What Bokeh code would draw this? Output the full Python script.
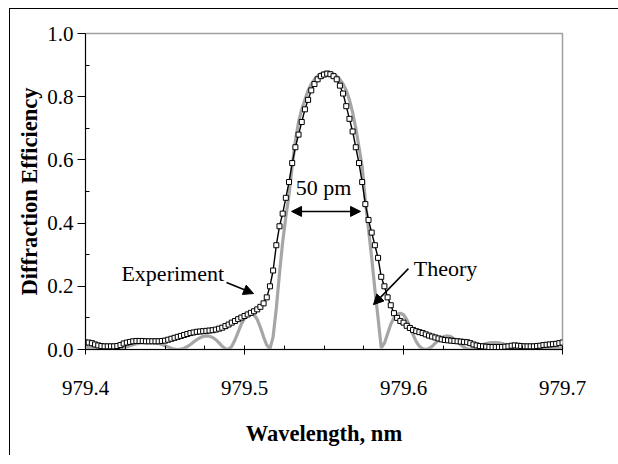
from bokeh.plotting import figure
from bokeh.models import FixedTicker, PrintfTickFormatter, Range1d, Label, Arrow, NormalHead, ColumnDataSource
from bokeh.embed import file_html
from bokeh.resources import INLINE

# ---------------- data ----------------
wavelength = [
    979.400, 979.402, 979.404, 979.406, 979.408, 979.410, 979.412, 979.414, 979.416, 979.418,
    979.420, 979.422, 979.424, 979.426, 979.428, 979.430, 979.432, 979.434, 979.436, 979.438,
    979.440, 979.442, 979.444, 979.446, 979.448, 979.450, 979.452, 979.454, 979.456, 979.458,
    979.460, 979.462, 979.464, 979.466, 979.468, 979.470, 979.472, 979.474, 979.476, 979.478,
    979.480, 979.482, 979.484, 979.486, 979.488, 979.490, 979.492, 979.494, 979.496, 979.498,
    979.500, 979.502, 979.504, 979.506, 979.508, 979.510, 979.512, 979.514, 979.516, 979.518,
    979.520, 979.522, 979.524, 979.526, 979.528, 979.530, 979.532, 979.534, 979.536, 979.538,
    979.540, 979.542, 979.544, 979.546, 979.548, 979.550, 979.552, 979.554, 979.556, 979.558,
    979.560, 979.562, 979.564, 979.566, 979.568, 979.570, 979.572, 979.574, 979.576, 979.578,
    979.580, 979.582, 979.584, 979.586, 979.588, 979.590, 979.592, 979.594, 979.596, 979.598,
    979.600, 979.602, 979.604, 979.606, 979.608, 979.610, 979.612, 979.614, 979.616, 979.618,
    979.620, 979.622, 979.624, 979.626, 979.628, 979.630, 979.632, 979.634, 979.636, 979.638,
    979.640, 979.642, 979.644, 979.646, 979.648, 979.650, 979.652, 979.654, 979.656, 979.658,
    979.660, 979.662, 979.664, 979.666, 979.668, 979.670, 979.672, 979.674, 979.676, 979.678,
    979.680, 979.682, 979.684, 979.686, 979.688, 979.690, 979.692, 979.694, 979.696, 979.698,
    979.700,
]

experiment = [
    0.022, 0.022, 0.020, 0.016, 0.013, 0.011, 0.010, 0.010, 0.010, 0.010,
    0.011, 0.014, 0.019, 0.022, 0.024, 0.026, 0.027, 0.027, 0.027, 0.026,
    0.026, 0.026, 0.026, 0.026, 0.027, 0.028, 0.031, 0.034, 0.037, 0.040,
    0.043, 0.046, 0.049, 0.052, 0.054, 0.056, 0.057, 0.058, 0.059, 0.060,
    0.061, 0.063, 0.066, 0.069, 0.074, 0.079, 0.085, 0.090, 0.096, 0.101,
    0.106, 0.111, 0.116, 0.121, 0.127, 0.135, 0.146, 0.165, 0.200, 0.250,
    0.330, 0.390, 0.430, 0.480, 0.530, 0.590, 0.640, 0.680, 0.720, 0.760,
    0.790, 0.820, 0.840, 0.855, 0.865, 0.870, 0.873, 0.871, 0.865, 0.855,
    0.835, 0.810, 0.770, 0.730, 0.690, 0.640, 0.590, 0.530, 0.460, 0.410,
    0.370, 0.330, 0.290, 0.230, 0.200, 0.165, 0.140, 0.115, 0.100, 0.090,
    0.085, 0.075, 0.068, 0.062, 0.058, 0.055, 0.052, 0.048, 0.044, 0.041,
    0.038, 0.035, 0.032, 0.030, 0.029, 0.028, 0.027, 0.026, 0.025, 0.024,
    0.023, 0.020, 0.016, 0.013, 0.011, 0.010, 0.009, 0.008, 0.008, 0.008,
    0.008, 0.008, 0.009, 0.010, 0.012, 0.013, 0.012, 0.011, 0.010, 0.010,
    0.010, 0.010, 0.011, 0.012, 0.014, 0.015, 0.016, 0.017, 0.018, 0.020,
    0.022,
]

theory = [
    0.005, 0.006, 0.006, 0.005, 0.004, 0.002, 0.001, 0.000, 0.000, 0.001,
    0.002, 0.004, 0.006, 0.009, 0.012, 0.015, 0.018, 0.020, 0.021, 0.022,
    0.022, 0.022, 0.021, 0.019, 0.016, 0.012, 0.008, 0.004, 0.001, 0.000,
    0.001, 0.004, 0.009, 0.016, 0.024, 0.031, 0.037, 0.041, 0.043, 0.042,
    0.038, 0.031, 0.021, 0.010, 0.002, 0.001, 0.010, 0.030, 0.055, 0.080,
    0.098, 0.110, 0.114, 0.110, 0.095, 0.070, 0.040, 0.014, 0.002, 0.040,
    0.130, 0.240, 0.340, 0.420, 0.490, 0.580, 0.660, 0.720, 0.760, 0.790,
    0.820, 0.840, 0.855, 0.866, 0.873, 0.877, 0.878, 0.876, 0.872, 0.865,
    0.855, 0.840, 0.820, 0.790, 0.750, 0.700, 0.640, 0.580, 0.470, 0.380,
    0.290, 0.190, 0.100, 0.005, 0.020, 0.050, 0.080, 0.100, 0.112, 0.115,
    0.110, 0.095, 0.072, 0.047, 0.025, 0.010, 0.002, 0.000, 0.003, 0.010,
    0.020, 0.030, 0.038, 0.042, 0.043, 0.040, 0.033, 0.024, 0.015, 0.007,
    0.002, 0.001, 0.003, 0.007, 0.012, 0.016, 0.019, 0.021, 0.022, 0.022,
    0.021, 0.019, 0.016, 0.012, 0.008, 0.005, 0.002, 0.001, 0.000, 0.001,
    0.002, 0.003, 0.004, 0.005, 0.005, 0.005, 0.004, 0.003, 0.003, 0.003,
    0.004,
]

x_ticks = [979.4, 979.5, 979.6, 979.7]
x_minor = [979.425, 979.45, 979.475, 979.525, 979.55, 979.575, 979.625, 979.65, 979.675]
y_ticks = [0.0, 0.2, 0.4, 0.6, 0.8, 1.0]
y_minor = [0.1, 0.3, 0.5, 0.7, 0.9]

# annotations (data coordinates)
exp_label = ("Experiment", 979.4226, 0.24)
exp_arrow = (979.4887, 0.212, 979.5057, 0.177)
th_label = ("Theory", 979.6065, 0.255)
th_arrow = (979.6031, 0.256, 979.5811, 0.142)
fwhm_label = ("50 pm", 979.5497, 0.513)
fwhm_arrow = (979.5296, 0.437, 979.5730, 0.437)

FONT = "Liberation Serif"

p = figure(width=612, height=447, output_backend="svg", toolbar_location=None,
           x_range=Range1d(979.4, 979.7), y_range=Range1d(0, 1),
           min_border_left=75, min_border_right=60, min_border_top=24, min_border_bottom=107)
# outer chart frame: only its left and top edges fall inside the window
p.styles = {"margin-left": "9px", "margin-top": "8px",
            "border-left": "1px solid black", "border-top": "1px solid black",
            "border-right": "none", "border-bottom": "none"}
p.xgrid.visible = False
p.ygrid.visible = False
p.outline_line_color = "#a0a0a0"
p.outline_line_width = 1.5
p.background_fill_color = "white"
p.border_fill_color = "white"

src = ColumnDataSource(dict(x=wavelength, exp=experiment, th=theory))

p.line("x", "th", source=src, line_color="#a6a6a6", line_width=3.2)
p.line("x", "exp", source=src, line_color="black", line_width=1.4)
p.scatter("x", "exp", source=src, marker="square", size=5, fill_color="white",
          line_color="black", line_width=1)

# axes
xa = p.xaxis[0]
xa.ticker = FixedTicker(ticks=x_ticks, minor_ticks=x_minor)
xa.formatter = PrintfTickFormatter(format="%.1f")
xa.major_tick_in = 4
xa.major_tick_out = 5
xa.minor_tick_in = 4
xa.minor_tick_out = 0
xa.axis_line_color = "black"
xa.major_tick_line_color = "black"
xa.minor_tick_line_color = "black"
xa.major_label_text_font = FONT
xa.major_label_text_font_size = "21px"
xa.major_label_text_color = "black"
xa.major_label_standoff = 26
xa.axis_label = "Wavelength, nm"
xa.axis_label_text_font = FONT
xa.axis_label_text_font_style = "bold"
xa.axis_label_text_font_size = "22.5px"
xa.axis_label_text_color = "black"
xa.axis_label_standoff = 23

ya = p.yaxis[0]
ya.ticker = FixedTicker(ticks=y_ticks, minor_ticks=y_minor)
ya.formatter = PrintfTickFormatter(format="%.1f")
ya.major_tick_in = 0
ya.major_tick_out = 8
ya.minor_tick_in = 4
ya.minor_tick_out = 0
ya.axis_line_color = "black"
ya.major_tick_line_color = "black"
ya.minor_tick_line_color = "black"
ya.major_label_text_font = FONT
ya.major_label_text_font_size = "21px"
ya.major_label_text_color = "black"
ya.major_label_standoff = 4
ya.axis_label = "Diffraction Efficiency"
ya.axis_label_text_font = FONT
ya.axis_label_text_font_style = "bold"
ya.axis_label_text_font_size = "22.5px"
ya.axis_label_text_color = "black"
ya.axis_label_standoff = 2

# annotations
for txt, lx, ly in (exp_label, th_label):
    p.add_layout(Label(x=lx, y=ly, text=txt, text_font=FONT, text_font_size="22px",
                       text_baseline="middle", text_align="left", text_color="black"))
p.add_layout(Label(x=fwhm_label[1], y=fwhm_label[2], text=fwhm_label[0], text_font=FONT,
                   text_font_size="22px", text_baseline="middle", text_align="center",
                   text_color="black"))

for (x0, y0, x1, y1) in (exp_arrow, th_arrow):
    p.add_layout(Arrow(x_start=x0, y_start=y0, x_end=x1, y_end=y1, line_width=1.5,
                       end=NormalHead(size=10, fill_color="black", line_color="black")))
x0, y0, x1, y1 = fwhm_arrow
p.add_layout(Arrow(x_start=x0, y_start=y0, x_end=x1, y_end=y1, line_width=1.5,
                   start=NormalHead(size=10, fill_color="black", line_color="black"),
                   end=NormalHead(size=10, fill_color="black", line_color="black")))

open("out.html", "w").write(file_html(p, INLINE))
